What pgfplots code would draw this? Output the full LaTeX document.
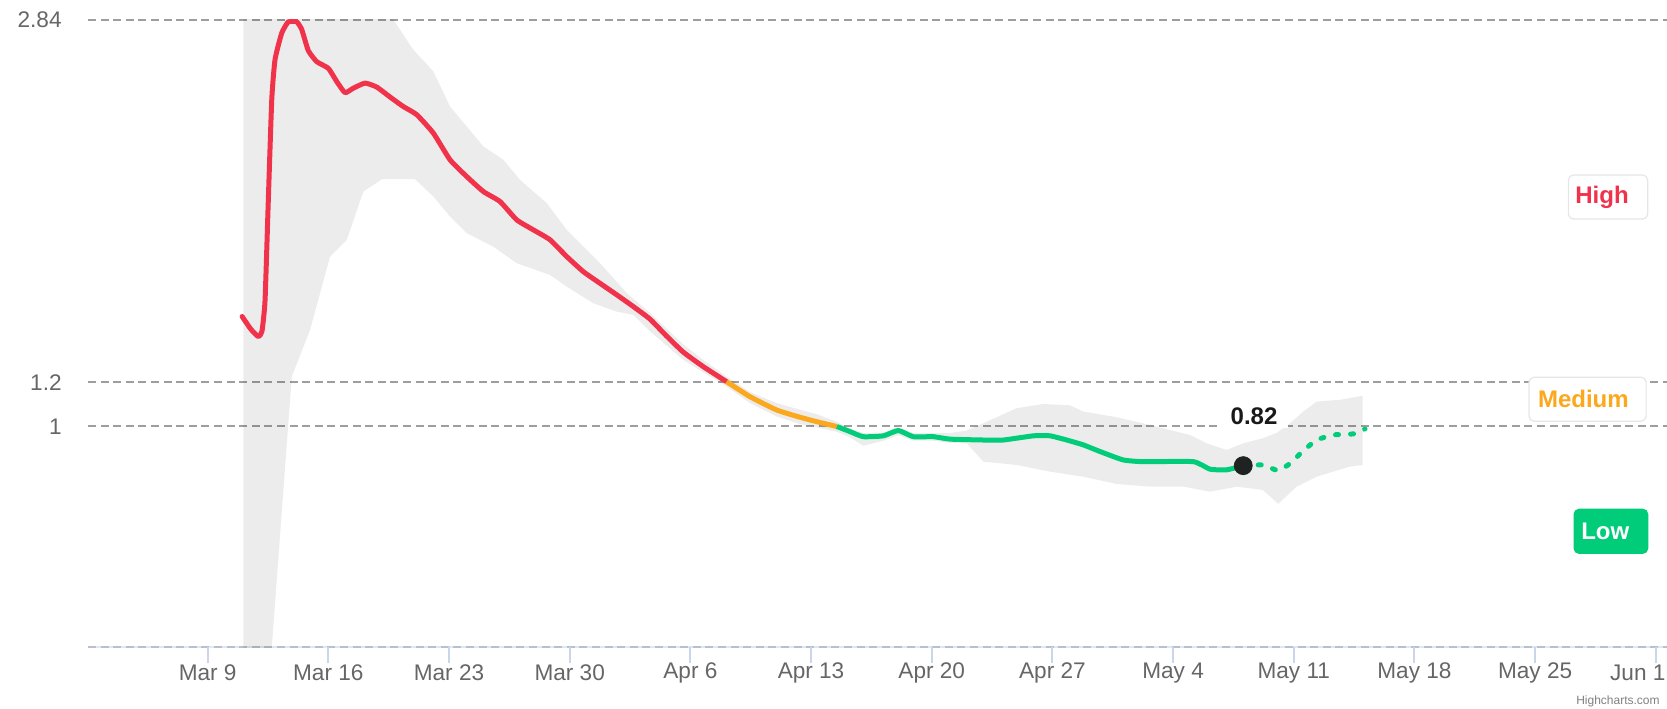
\documentclass[border=0pt]{standalone}
\usepackage{fontspec}
\setmainfont{Liberation Sans}
\usepackage{pgfplots}
\pgfplotsset{compat=1.18}
\definecolor{redc}{RGB}{240,50,75}
\definecolor{orangec}{RGB}{252,168,28}
\definecolor{greenc}{RGB}{0,204,122}
\definecolor{gridc}{RGB}{158,158,158}
\definecolor{axisc}{RGB}{204,214,235}
\definecolor{labelc}{RGB}{102,102,102}
\definecolor{boxc}{RGB}{230,230,230}
\definecolor{dotc}{RGB}{30,34,32}
\begin{document}
\begin{tikzpicture}
\path[use as bounding box] (0,0) rectangle (833.5pt,354pt);
\begin{axis}[
  at={(44pt,30.35pt)}, anchor=south west, scale only axis,
  width=789.5pt, height=313.8pt,
  xmin=-6.94, xmax=84.65, ymin=0, ymax=2.84,
  axis x line*=bottom, axis y line*=left,
  axis line style={-},
  x axis line style={draw=axisc, draw opacity=0.6, line width=1pt},
  y axis line style={draw=none},
  xtick={0,7,...,84},
  xticklabels={Mar 9,Mar 16,Mar 23,Mar 30,Apr 6,Apr 13,Apr 20,Apr 27,May 4,May 11,May 18,May 25,{\hspace*{-18pt}Jun 1}},
  ytick={0,1,1.2,2.84},
  yticklabels={,1,1.2,2.84},
  tick align=outside,
  xtick style={draw=axisc, line width=1pt},
  ytick style={draw=none},
  major tick length=8pt,
  ymajorgrids,
  major grid style={draw=gridc, line width=1.1pt, dash pattern=on 4pt off 2.3pt},
  ticklabel style={font=\fontsize{11.3}{13}\selectfont, text=labelc},
  xticklabel style={anchor=center, yshift=-4.85pt},
  yticklabel style={anchor=east, inner sep=0pt, xshift=-5pt},
]
% uncertainty band
\addplot[draw=none, fill=black, fill opacity=0.075] coordinates {
(2.07,3.3) (8.0,3.3) (10.77,2.84) (11.93,2.704) (13.09,2.606) (14.06,2.447) (16.0,2.266) (17.15,2.206) (18.12,2.115) (19.67,2.01) (20.83,1.889) (22.76,1.738) (24.31,1.603) (25.66,1.513) (27.6,1.37) (28.75,1.30) (30.1,1.225) (31.46,1.155) (33.0,1.105) (34.36,1.075) (35.33,1.055) (36.5,1.02) (37.26,0.99) (38.03,0.97) (39.2,0.972) (40.06,0.995) (40.93,0.97) (42.1,0.97) (43.06,0.97) (44.0,0.98) (45.0,1.014) (46.93,1.082) (48.47,1.101) (50.02,1.095) (50.79,1.067) (52.73,1.041) (54.66,1.006) (56.98,0.961) (57.95,0.923) (59.1,0.893) (60.07,0.923) (61.2,0.946) (62.0,0.97) (62.66,1.006) (63.56,1.067) (64.33,1.112) (65.68,1.12) (67.0,1.138)
(67.0,0.825) (66.26,0.818) (64.33,0.772) (63.17,0.727) (62.1,0.649) (61.2,0.712) (59.69,0.727) (58.14,0.704) (56.6,0.727) (54.66,0.727) (52.73,0.739) (50.79,0.772) (48.86,0.795) (46.93,0.825) (45.0,0.840) (44.03,0.923) (43.06,0.925) (42.1,0.935) (40.93,0.935) (40.06,0.96) (39.2,0.935) (38.03,0.912) (37.26,0.95) (36.5,0.975) (35.33,0.995) (34.36,1.01) (33.0,1.045) (31.46,1.105) (30.1,1.18) (28.75,1.245) (27.6,1.30) (25.66,1.43) (24.69,1.504) (23.73,1.519) (22.37,1.557) (20.83,1.632) (19.86,1.685) (17.93,1.738) (16.57,1.813) (15.03,1.874) (14.06,1.949) (13.09,2.04) (12.03,2.118) (10.1,2.118) (9.03,2.062) (8.07,1.844) (7.1,1.768) (5.94,1.436) (4.88,1.225) (3.72,0) (3.4,-0.5) (2.07,-0.5)
} -- cycle;
% high
\addplot[redc, line width=2.5pt, smooth, tension=0.3, line join=round, line cap=round] coordinates {
(2.0,1.497) (2.5,1.44) (2.94,1.406) (3.15,1.43) (3.33,1.57) (3.52,2.025) (3.72,2.48) (3.91,2.66) (4.30,2.78) (4.68,2.83) (5.17,2.83) (5.46,2.795) (5.84,2.70) (6.33,2.65) (7.0,2.62) (7.49,2.56) (7.97,2.51) (8.45,2.53) (9.13,2.553) (9.81,2.535) (10.58,2.49) (11.35,2.447) (12.13,2.41) (13.09,2.327) (14.06,2.206) (15.03,2.13) (16.0,2.062) (16.96,2.017) (17.93,1.934) (18.89,1.889) (19.86,1.844) (20.83,1.768) (21.79,1.70) (22.76,1.647) (23.73,1.595) (24.69,1.542) (25.66,1.485) (26.6,1.41) (27.6,1.335) (28.75,1.27) (30.1,1.202)
};
% medium
\addplot[orangec, line width=2.5pt, smooth, tension=0.3, line join=round] coordinates {
(30.1,1.202) (31.46,1.134) (33.0,1.074) (34.36,1.041) (35.33,1.021) (36.5,0.999)
};
% low
\addplot[greenc, line width=2.5pt, smooth, tension=0.3, line join=round] coordinates {
(36.5,0.999) (37.26,0.976) (38.03,0.953) (39.2,0.957) (40.06,0.981) (40.93,0.953) (42.1,0.953) (43.06,0.942) (45.0,0.938) (46.15,0.938) (47.9,0.957) (48.86,0.957) (49.83,0.938) (50.79,0.916) (51.76,0.886) (53.1,0.848) (54.27,0.840) (57.17,0.840) (58.14,0.806) (59.1,0.803) (60.07,0.822)
};
% forecast
\addplot[greenc, line width=2.5pt, smooth, tension=0.3, line cap=round, dash pattern=on 1.5pt off 6pt] coordinates {
(60.07,0.822) (61.2,0.825) (62.1,0.80) (62.8,0.833) (63.56,0.89) (64.33,0.938) (65.3,0.961) (66.46,0.966) (67.13,0.988)
};
\addplot[only marks, mark=*, mark size=4.5pt, mark options={fill=dotc, draw=dotc}] coordinates {(60.07,0.822)};
\node[fill=white, inner sep=0pt, minimum width=34pt, minimum height=11.5pt, font=\bfseries\fontsize{12}{12}\selectfont, text=black!90, xshift=5.4pt, yshift=24.6pt] at (axis cs:60.07,0.822) {0.82};
\end{axis}
\node[draw=boxc, fill=white, rounded corners=2.5pt, line width=0.6pt, anchor=east, inner xsep=0pt, inner ysep=0pt, minimum height=22pt, font=\bfseries\fontsize{12}{12}\selectfont, text=redc] at (824.15pt,255.5pt) {\hspace*{3.5pt}High\hspace*{9.5pt}};
\node[draw=boxc, fill=white, rounded corners=2.5pt, line width=0.6pt, anchor=east, inner xsep=0pt, inner ysep=0pt, minimum height=22pt, font=\bfseries\fontsize{12}{12}\selectfont, text=orangec] at (823.35pt,154.4pt) {\hspace*{4.5pt}Medium\hspace*{8.7pt}};
\node[draw=greenc, fill=greenc, rounded corners=2.5pt, line width=0.6pt, anchor=east, inner xsep=0pt, inner ysep=0pt, minimum height=22pt, font=\bfseries\fontsize{12}{12}\selectfont, text=white] at (824.15pt,88.35pt) {\hspace*{3.6pt}Low\hspace*{9.2pt}};
\node[anchor=base east, inner sep=0pt, font=\fontsize{6}{7}\selectfont, text=gray] at (830pt,2pt) {Highcharts.com};
\end{tikzpicture}
\end{document}
